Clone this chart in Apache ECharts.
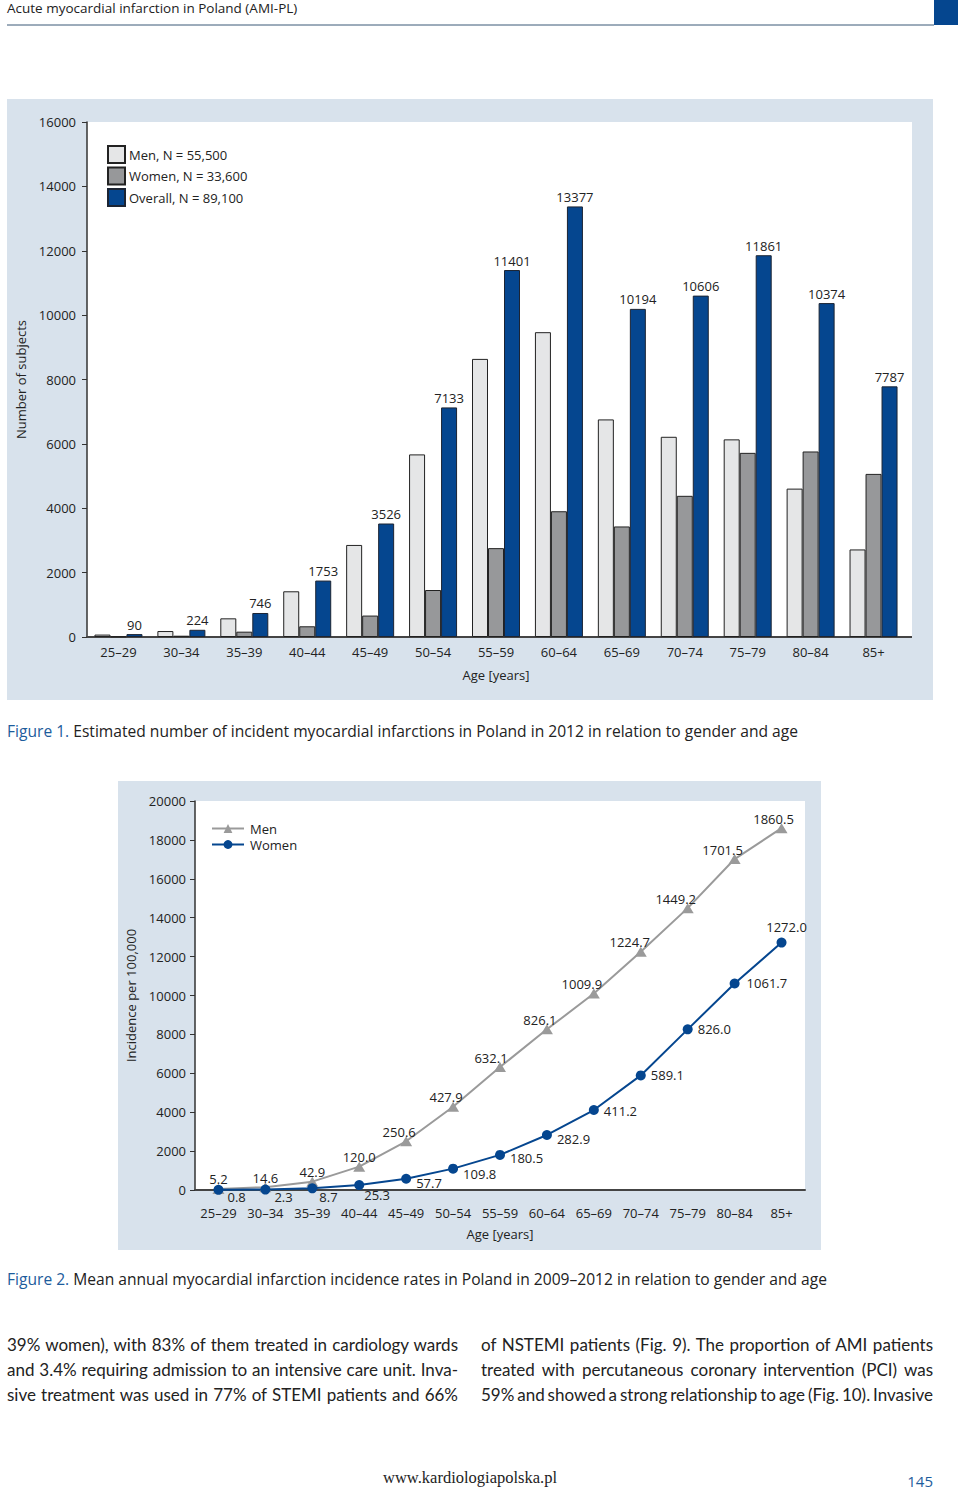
<!DOCTYPE html>
<html>
<head>
<meta charset="utf-8">
<title>Acute myocardial infarction in Poland (AMI-PL)</title>
<script src="https://cdn.jsdelivr.net/npm/echarts@6/dist/echarts.min.js"></script>
<style>
  html, body { margin: 0; padding: 0; background: #fff; }
  #page { position: relative; width: 960px; height: 1493px; }
  #chart { position: absolute; left: 0; top: 0; width: 960px; height: 1493px; }
  .col { position: absolute; top: 1332px; font-family: Lato, "Open Sans", sans-serif; font-size: 17px; color: #222; line-height: 25px; }
  .col div { text-align: justify; text-align-last: justify; white-space: nowrap; }
</style>
</head>
<body>
<div id="page">
  <div id="chart"></div>
  <div class="col" style="left:7px;width:451px">
    <div>39% women), with 83% of them treated in cardiology wards</div>
    <div>and 3.4% requiring admission to an intensive care unit. Inva-</div>
    <div>sive treatment was used in 77% of STEMI patients and 66%</div>
  </div>
  <div class="col" style="left:481px;width:452px">
    <div>of NSTEMI patients (Fig. 9). The proportion of AMI patients</div>
    <div>treated with percutaneous coronary intervention (PCI) was</div>
    <div style="word-spacing:-2.2px">59% and showed a strong relationship to age (Fig. 10). Invasive</div>
  </div>
</div>
<script>
// age groups shared by both figures
const ageGroups = ['25–29', '30–34', '35–39', '40–44', '45–49', '50–54', '55–59',
  '60–64', '65–69', '70–74', '75–79', '80–84', '85+'];

// figure 1: number of subjects
const menCount = [75, 185, 580, 1420, 2860, 5673, 8640, 9470, 6760, 6220, 6140, 4610, 2720];
const womenCount = [15, 40, 166, 333, 666, 1460, 2761, 3907, 3434, 4386, 5721, 5764, 5067];
const overallCount = [90, 224, 746, 1753, 3526, 7133, 11401, 13377, 10194, 10606, 11861, 10374, 7787];
const countNames = ['Men, N = 55,500', 'Women, N = 33,600', 'Overall, N = 89,100'];

// figure 2: incidence per 100,000 (printed values)
const menRate = [5.2, 14.6, 42.9, 120.0, 250.6, 427.9, 632.1, 826.1, 1009.9, 1224.7, 1449.2, 1701.5, 1860.5];
const womenRate = [0.8, 2.3, 8.7, 25.3, 57.7, 109.8, 180.5, 282.9, 411.2, 589.1, 826.0, 1061.7, 1272.0];

const FONT = '"Open Sans", sans-serif';
const INK = '#222';
const BLUE = '#05468f';
const FRAME = '#d8e2ec';

// label placement for fig. 2 (style only)
const menShift = [0, 0, 0, 0, -7, -7, -9, -7, -12, -11, -12, -12, -8];
const womenPlace = [
  ['right', -1, 7], ['right', -1, 7], ['right', -3, 9], ['right', -5, 10],
  ['right', 0, 4], ['right', 0, 5], ['right', 0, 3], ['right', 0, 4], ['right', 0, 1],
  ['right', 0, 0], ['right', 0, 0], ['right', 2, 0], ['top', 5, 1]
];

const chart = echarts.init(document.getElementById('chart'), null, { renderer: 'svg' });

const txt = { fontFamily: FONT, fontSize: 13, color: INK };

const option = {
  animation: false,
  textStyle: { fontFamily: FONT },
  graphic: [
    { type: 'rect', z: -10, shape: { x: 7, y: 99, width: 926, height: 601 }, style: { fill: FRAME } },
    { type: 'rect', z: -9, shape: { x: 87, y: 122, width: 825, height: 515 }, style: { fill: '#fff' } },
    { type: 'line', shape: { x1: 900, y1: 637, x2: 912, y2: 637 }, style: { stroke: '#444', lineWidth: 2 } },
    { type: 'rect', z: -10, shape: { x: 118, y: 781, width: 703, height: 469 }, style: { fill: FRAME } },
    { type: 'rect', z: -9, shape: { x: 195, y: 801, width: 610, height: 389 }, style: { fill: '#fff' } },
    // running header
    { type: 'text', x: 7, y: 8, style: { text: 'Acute myocardial infarction in Poland (AMI-PL)', fontFamily: FONT, fontSize: 13.5, fill: INK, verticalAlign: 'middle' } },
    { type: 'line', shape: { x1: 7, y1: 25, x2: 934, y2: 25 }, style: { stroke: '#3b5877', lineWidth: 1 } },
    { type: 'rect', shape: { x: 934, y: 0, width: 24, height: 25 }, style: { fill: BLUE } },
    // captions
    {
      type: 'text', x: 7, y: 731,
      style: {
        text: '{b|Figure 1.} Estimated number of incident myocardial infarctions in Poland in 2012 in relation to gender and age',
        fontFamily: FONT, fontSize: 15.6, fill: INK, verticalAlign: 'middle',
        rich: { b: { fill: '#1d5c9c', fontFamily: FONT, fontSize: 15.6 } }
      }
    },
    {
      type: 'text', x: 7, y: 1279,
      style: {
        text: '{b|Figure 2.} Mean annual myocardial infarction incidence rates in Poland in 2009–2012 in relation to gender and age',
        fontFamily: FONT, fontSize: 15.6, fill: INK, verticalAlign: 'middle',
        rich: { b: { fill: '#1d5c9c', fontFamily: FONT, fontSize: 15.6 } }
      }
    },
    // footer
    { type: 'text', x: 470, y: 1477, style: { text: 'www.kardiologiapolska.pl', fontFamily: '"Liberation Serif", serif', fontSize: 16.5, fill: INK, align: 'center', verticalAlign: 'middle' } },
    { type: 'text', x: 933, y: 1481, style: { text: '145', fontFamily: FONT, fontSize: 15, fill: '#1d5c9c', align: 'right', verticalAlign: 'middle' } }
  ],
  legend: [
    {
      data: countNames, orient: 'vertical', left: 107, top: 145,
      icon: 'rect', itemWidth: 17, itemHeight: 17, itemGap: 2.5, padding: 0,
      textStyle: { ...txt, padding: [0, 0, 0, -1] }
    },
    {
      data: ['Men', 'Women'], orient: 'vertical', left: 211, top: 822,
      itemWidth: 32, itemHeight: 11, itemGap: 3, padding: 0,
      textStyle: { ...txt, padding: [0, 0, 0, 1] }
    }
  ],
  grid: [
    { left: 87, top: 122, width: 818, height: 515, containLabel: false },
    { left: 195, top: 801, width: 610, height: 389, containLabel: false }
  ],
  xAxis: [
    {
      gridIndex: 0, type: 'category', data: ageGroups,
      axisLine: { show: true, lineStyle: { color: '#444', width: 2 } },
      axisTick: { show: false },
      axisLabel: { ...txt, margin: 8, interval: 0 },
      name: 'Age [years]', nameLocation: 'middle', nameGap: 31, nameTextStyle: txt
    },
    {
      gridIndex: 1, type: 'category', data: ageGroups, boundaryGap: true,
      axisLine: { show: true, lineStyle: { color: '#444', width: 2 } },
      axisTick: { show: false },
      axisLabel: { ...txt, margin: 16, interval: 0 },
      name: 'Age [years]', nameLocation: 'middle', nameGap: 37, nameTextStyle: txt
    }
  ],
  yAxis: [
    {
      gridIndex: 0, type: 'value', min: 0, max: 16000, interval: 2000,
      axisLine: { show: true, lineStyle: { color: '#333', width: 1.5 } },
      axisTick: { show: true, length: 5, lineStyle: { color: '#333', width: 1 } },
      axisLabel: { ...txt, margin: 11, formatter: v => String(v) },
      splitLine: { show: false },
      name: 'Number of subjects', nameLocation: 'middle', nameGap: 52, nameTextStyle: txt
    },
    {
      gridIndex: 1, type: 'value', min: 0, max: 2000, interval: 200,
      axisLine: { show: true, lineStyle: { color: '#333', width: 1.5 } },
      axisTick: { show: true, length: 5, lineStyle: { color: '#333', width: 1 } },
      axisLabel: { ...txt, margin: 9, formatter: v => String(Math.round(v * 10)) },
      splitLine: { show: false },
      name: 'Incidence per 100,000', nameLocation: 'middle', nameGap: 51, nameTextStyle: txt
    }
  ],
  series: [
    {
      name: countNames[0], type: 'bar', xAxisIndex: 0, yAxisIndex: 0,
      data: menCount, barWidth: 16, barGap: '0%',
      itemStyle: { color: '#e5e6e7', borderColor: '#222', borderWidth: 1 }
    },
    {
      name: countNames[1], type: 'bar', xAxisIndex: 0, yAxisIndex: 0,
      data: womenCount, barWidth: 16, barGap: '0%',
      itemStyle: { color: '#97989a', borderColor: '#222', borderWidth: 1 }
    },
    {
      name: countNames[2], type: 'bar', xAxisIndex: 0, yAxisIndex: 0,
      data: overallCount, barWidth: 16, barGap: '0%',
      itemStyle: { color: BLUE, borderColor: '#1c2433', borderWidth: 1 },
      label: { show: true, position: 'top', distance: 3, ...txt }
    },
    {
      name: 'Men', type: 'line', xAxisIndex: 1, yAxisIndex: 1,
      data: menRate.map((v, i) => ({ value: v, label: { offset: [menShift[i], 2] } })),
      symbol: 'triangle', symbolSize: [12, 10],
      lineStyle: { color: '#9a9a9a', width: 2 },
      itemStyle: { color: '#9a9a9a' },
      label: { show: true, position: 'top', distance: 0, ...txt, formatter: p => p.value.toFixed(1) }
    },
    {
      name: 'Women', type: 'line', xAxisIndex: 1, yAxisIndex: 1,
      data: womenRate.map((v, i) => ({
        value: v,
        label: { position: womenPlace[i][0], offset: [womenPlace[i][1], womenPlace[i][2]] }
      })),
      symbol: 'circle', symbolSize: 10,
      lineStyle: { color: BLUE, width: 2 },
      itemStyle: { color: BLUE },
      label: { show: true, distance: 5, ...txt, formatter: p => p.value.toFixed(1) }
    }
  ]
};

chart.setOption(option);
</script>
</body>
</html>
